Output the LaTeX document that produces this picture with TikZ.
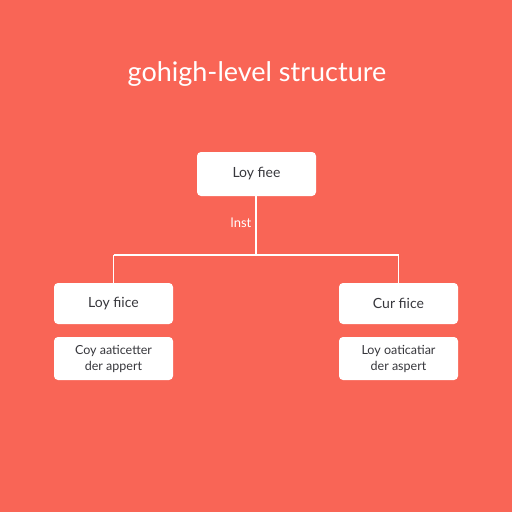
\documentclass[tikz,border=0pt]{standalone}
\usepackage{fontspec}
\setmainfont{Lato}
\usetikzlibrary{positioning}
\definecolor{coral}{RGB}{249,101,86}
\definecolor{ink}{RGB}{55,55,60}

\begin{document}
\begin{tikzpicture}[x=1pt, y=-1pt, thick,
		box/.style = {fill=white, rounded corners=4pt, minimum width=119pt, text=ink, font=\fontsize{14}{16}\selectfont, align=center},
		note/.style = {box, minimum height=43pt, font=\fontsize{12.5}{16}\selectfont},
		wire/.style = {draw=white, line width=1.6pt}]
		\fill[coral] (0,0) rectangle (512,512);
		\useasboundingbox (0,0) rectangle (512,512);
		
		\node[text=white, font=\fontsize{27}{30}\selectfont] (title) at (257,74) {gohigh-level structure};
		
		\node[box, minimum height=44pt] (top) at (256.5,174) {Loy fiee};
		\node[box, minimum height=41pt] (left) at (113.5,303.5) {Loy fiice};
		\node[box, minimum height=41pt] (right) at (398.5,303.5) {Cur fiice};
		\node[note] (leftnote) at (113.5,358.5) {Coy aaticetter\\der appert};
		\node[note] (rightnote) at (398.5,358.5) {Loy oaticatiar\\der aspert};
		
		\coordinate (J) at (256,255);
		\coordinate (L) at (left.north |- J);
		\coordinate (R) at (right.north |- J);
		
		\draw[wire] (top.south -| J) -- (J);
		\draw[wire] (L) -- (R);
		\draw[wire] (L) -- (left.north);
		\draw[wire] (R) -- (right.north);
		\node[text=white, font=\fontsize{13}{15}\selectfont] (inst) at (241,223) {lnst};
	\end{tikzpicture}
\end{document}
